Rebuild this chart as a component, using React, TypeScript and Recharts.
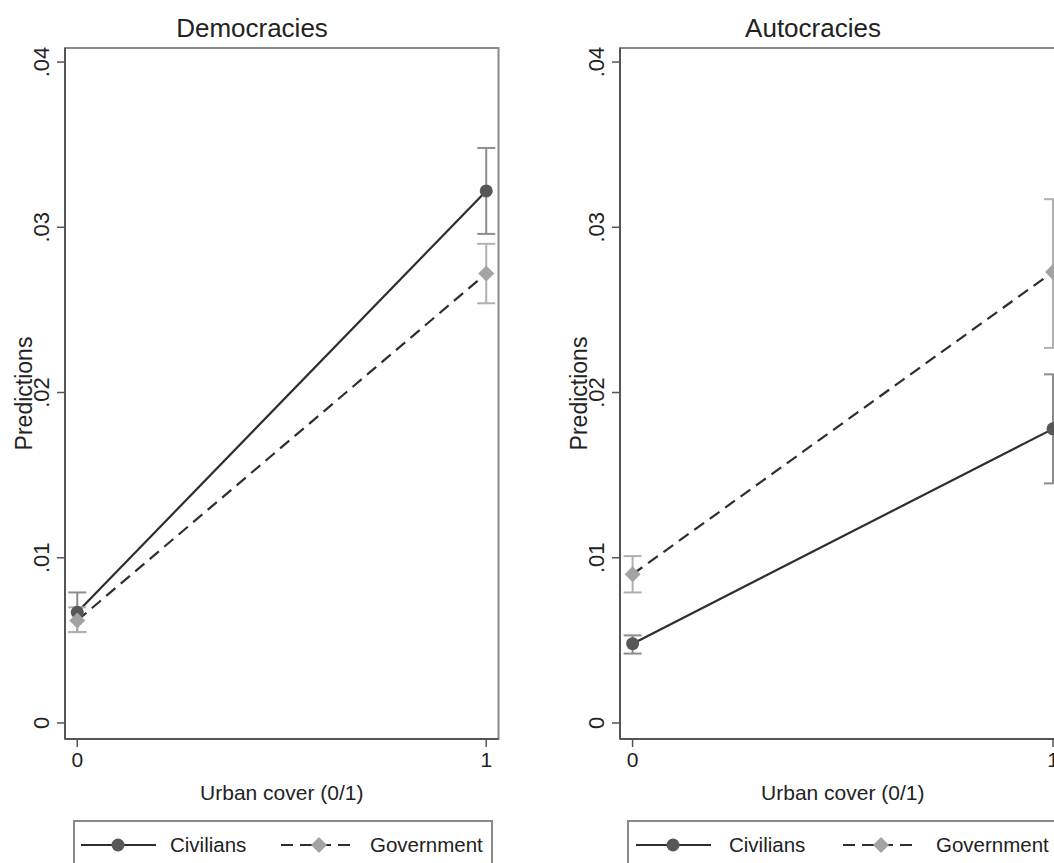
import React from 'react';
import { LineChart, Line, XAxis, YAxis, ErrorBar, ReferenceArea } from 'recharts';

// ---- data ----
const xValues = [0, 1];
const yTicks = [0, 0.01, 0.02, 0.03, 0.04];
const yTickLabels = ['0', '.01', '.02', '.03', '.04'];
const xTickLabels = ['0', '1'];

const demCivilians = [0.0067, 0.0322];
const demCivLow = [0.0055, 0.0296];
const demCivHigh = [0.0079, 0.0348];
const demGovernment = [0.0062, 0.0272];
const demGovLow = [0.0055, 0.0254];
const demGovHigh = [0.0070, 0.0290];

const autCivilians = [0.0048, 0.0178];
const autCivLow = [0.0042, 0.0145];
const autCivHigh = [0.0053, 0.0211];
const autGovernment = [0.0090, 0.0273];
const autGovLow = [0.0079, 0.0227];
const autGovHigh = [0.0101, 0.0317];

const panelTitles = ['Democracies', 'Autocracies'];
const seriesNames = ['Civilians', 'Government'];

const X_DOMAIN: [number, number] = [-0.03, 1.03];
const Y_DOMAIN: [number, number] = [-0.00097, 0.04085];

const FONT = '"Liberation Sans", Arial, sans-serif';
const TEXT = '#222';
const DASH = '12 7';

function build(civ: number[], civLo: number[], civHi: number[], gov: number[], govLo: number[], govHi: number[]) {
  return xValues.map((x, i) => ({
    x,
    civ: civ[i],
    civErr: [civ[i] - civLo[i], civHi[i] - civ[i]],
    gov: gov[i],
    govErr: [gov[i] - govLo[i], govHi[i] - gov[i]],
  }));
}

const demData = build(demCivilians, demCivLow, demCivHigh, demGovernment, demGovLow, demGovHigh);
const autData = build(autCivilians, autCivLow, autCivHigh, autGovernment, autGovLow, autGovHigh);

const Diamond = (props: any) => {
  const { cx, cy } = props;
  if (cx == null || cy == null) return null;
  const r = 8;
  return <polygon points={`${cx},${cy - r} ${cx + r},${cy} ${cx},${cy + r} ${cx - r},${cy}`} fill="#a3a3a3" />;
};

const YTick = (props: any) => {
  const { x, y, payload } = props;
  const idx = yTicks.indexOf(payload.value);
  const label = idx >= 0 ? yTickLabels[idx] : String(payload.value);
  const bx = x - 6;
  return (
    <text x={bx} y={y} transform={`rotate(-90, ${bx}, ${y})`} textAnchor="middle" fontSize={22} fill={TEXT} fontFamily={FONT}>
      {label}
    </text>
  );
};

const XTick = (props: any) => {
  const { x, y, payload } = props;
  const idx = xValues.indexOf(payload.value);
  const label = idx >= 0 ? xTickLabels[idx] : String(payload.value);
  return (
    <text x={x} y={y + 18} textAnchor="middle" fontSize={21} fill={TEXT} fontFamily={FONT}>
      {label}
    </text>
  );
};

const makeYLabel = (axisX: number) => (props: any) => {
  const vb = props.viewBox || {};
  const x = axisX - 33;
  const y = vb.y + vb.height / 2;
  return (
    <text x={x} y={y} transform={`rotate(-90, ${x}, ${y})`} textAnchor="middle" fontSize={23} fill={TEXT} fontFamily={FONT}>
      Predictions
    </text>
  );
};

const XLabel = (props: any) => {
  const vb = props.viewBox || {};
  const x = vb.x + vb.width / 2;
  const y = vb.y + 61;
  return (
    <text x={x} y={y} textAnchor="middle" fontSize={21} fill={TEXT} fontFamily={FONT}>
      Urban cover (0/1)
    </text>
  );
};

function Panel({ data, left, width, plotLeft, plotRight }: any) {
  const height = 863;
  const yAxisW = 40;
  const YLabel = makeYLabel(plotLeft - left);
  return (
    <div style={{ position: 'absolute', left, top: 0 }}>
      <LineChart
        width={width}
        height={height}
        data={data}
        margin={{ top: 48, left: plotLeft - left - yAxisW, right: left + width - plotRight, bottom: height - 739 - 60 }}
      >
        <ReferenceArea
          x1={X_DOMAIN[0]}
          x2={X_DOMAIN[1]}
          y1={Y_DOMAIN[0]}
          y2={Y_DOMAIN[1]}
          fill="#fff"
          fillOpacity={0}
          stroke="#8a8a8a"
          strokeWidth={2}
          ifOverflow="visible"
        />
        <XAxis
          dataKey="x"
          type="number"
          domain={X_DOMAIN}
          ticks={xValues}
          height={60}
          axisLine={{ stroke: '#555', strokeWidth: 2 }}
          tickLine={{ stroke: '#555', strokeWidth: 1.5 }}
          tickSize={8}
          tick={<XTick />}
          label={<XLabel />}
          allowDataOverflow
        />
        <YAxis
          type="number"
          domain={Y_DOMAIN}
          ticks={yTicks}
          width={yAxisW}
          axisLine={{ stroke: '#555', strokeWidth: 2 }}
          tickLine={{ stroke: '#555', strokeWidth: 1.5 }}
          tickSize={8}
          tick={<YTick />}
          label={<YLabel />}
          allowDataOverflow
        />
        <Line
          dataKey="civ"
          name={seriesNames[0]}
          stroke="#2e2e2e"
          strokeWidth={2.2}
          dot={{ r: 6.5, fill: '#575757', stroke: 'none' }}
          activeDot={false}
          isAnimationActive={false}
        >
          <ErrorBar dataKey="civErr" direction="y" width={9} stroke="#8c8c8c" strokeWidth={2} />
        </Line>
        <Line
          dataKey="gov"
          name={seriesNames[1]}
          stroke="#2e2e2e"
          strokeWidth={2.2}
          strokeDasharray={DASH}
          dot={<Diamond />}
          activeDot={false}
          isAnimationActive={false}
        >
          <ErrorBar dataKey="govErr" direction="y" width={9} stroke="#b0b0b0" strokeWidth={2} />
        </Line>
      </LineChart>
    </div>
  );
}

function LegendBox({ left, width, offsets }: any) {
  const y = 25;
  return (
    <div
      style={{
        position: 'absolute',
        left,
        top: 820,
        width,
        height: 60,
        border: '2px solid #8a8a8a',
        boxSizing: 'border-box',
        background: '#fff',
      }}
    >
      <svg width={width} height={60} style={{ position: 'absolute', left: -2, top: -2 }}>
        <line x1={offsets.civ0} x2={offsets.civ0 + 75} y1={y} y2={y} stroke="#2e2e2e" strokeWidth={2.2} />
        <circle cx={offsets.civ0 + 37} cy={y} r={6.5} fill="#575757" />
        <text x={offsets.civText} y={y + 7} fontSize={20.5} fill={TEXT} fontFamily={FONT}>{seriesNames[0]}</text>
        <line x1={offsets.gov0} x2={offsets.gov0 + 75} y1={y} y2={y} stroke="#2e2e2e" strokeWidth={2.2} strokeDasharray={DASH} />
        <polygon
          points={`${offsets.gov0 + 38},${y - 8} ${offsets.gov0 + 46},${y} ${offsets.gov0 + 38},${y + 8} ${offsets.gov0 + 30},${y}`}
          fill="#a3a3a3"
        />
        <text x={offsets.govText} y={y + 7} fontSize={20.5} fill={TEXT} fontFamily={FONT}>{seriesNames[1]}</text>
      </svg>
    </div>
  );
}

export default function App() {
  return (
    <div style={{ position: 'absolute', left: 0, top: 0, width: 1054, height: 863, overflow: 'hidden', background: '#fff', fontFamily: FONT }}>
      <div style={{ position: 'absolute', left: 152, width: 200, top: 12, textAlign: 'center', fontSize: 26, color: TEXT, lineHeight: '32px' }}>
        {panelTitles[0]}
      </div>
      <div style={{ position: 'absolute', left: 713, width: 200, top: 12, textAlign: 'center', fontSize: 26, color: TEXT, lineHeight: '32px' }}>
        {panelTitles[1]}
      </div>
      <Panel data={demData} left={0} width={520} plotLeft={65} plotRight={498.5} />
      <Panel data={autData} left={555} width={540} plotLeft={620} plotRight={1065.6} />
      <LegendBox left={73} width={420} offsets={{ civ0: 8, civText: 97, gov0: 208, govText: 297 }} />
      <LegendBox left={627} width={460} offsets={{ civ0: 9, civText: 102, gov0: 216, govText: 309 }} />
    </div>
  );
}
